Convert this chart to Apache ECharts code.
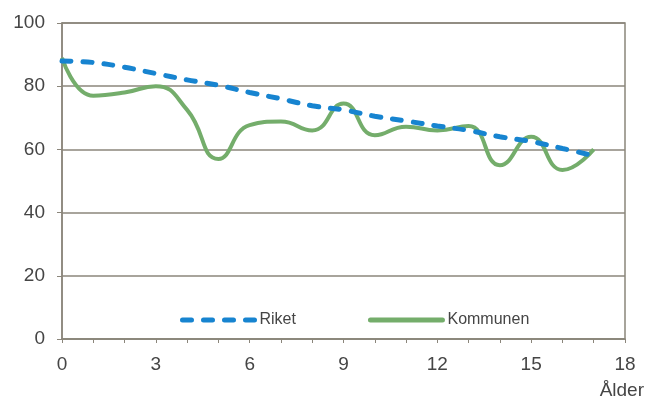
<!DOCTYPE html>
<html>
<head>
<meta charset="utf-8">
<script src="https://cdn.jsdelivr.net/npm/echarts@6/dist/echarts.min.js"></script>
<style>
  html, body { margin: 0; padding: 0; background: #fff; }
  #chart { width: 647px; height: 403px; }
</style>
</head>
<body>
<div id="chart"></div>
<script>
// ålder 0..17
const ages = [0, 1, 2, 3, 4, 5, 6, 7, 8, 9, 10, 11, 12, 13, 14, 15, 16, 17]
const riket = [88, 87.5, 86, 84, 82, 80.3, 78, 76, 73.8, 72.5, 70.5, 69, 67.4, 66, 64, 62.5, 60.3, 58]
const kommunen = [89, 77, 78, 80, 72.5, 57, 67.7, 68.8, 66, 74.5, 64.5, 67.2, 66, 67.4, 55, 64, 53.5, 60]
const xTicks = [0, 3, 6, 9, 12, 15, 18]

const gridColor = '#8b867b'
const textColor = '#454545'

const chart = echarts.init(document.getElementById('chart'))

const option = {
  animation: false,
  backgroundColor: '#fff',
  textStyle: { fontFamily: 'Liberation Sans, Arial, sans-serif' },
  grid: {
    left: 62, right: 21, top: 23, bottom: 64,
    show: true, borderColor: gridColor, borderWidth: 1.5
  },
  legend: {
    top: 307,
    left: 175,
    itemWidth: 72,
    itemHeight: 10,
    itemGap: 72,
    textStyle: { color: textColor, fontSize: 16 },
    itemStyle: { opacity: 0 },
    lineStyle: { width: 5, cap: 'round' },
    data: ['Riket', 'Kommunen']
  },
  xAxis: {
    type: 'value',
    min: 0, max: 18, interval: 3,
    name: 'Ålder',
    nameLocation: 'end',
    nameGap: 19,
    nameTextStyle: { color: textColor, fontSize: 19, align: 'right', verticalAlign: 'top', padding: [42, 0, 0, 0] },
    axisLine: { lineStyle: { color: gridColor, width: 1.5 } },
    axisTick: { show: true, length: 4, lineStyle: { color: gridColor } },
    minorTick: { show: true, splitNumber: 3, length: 4, lineStyle: { color: gridColor } },
    axisLabel: {
      color: textColor, fontSize: 19, margin: 16,
      customValues: xTicks
    },
    splitLine: { show: false }
  },
  yAxis: {
    type: 'value',
    min: 0, max: 100, interval: 20,
    axisLine: { show: true, lineStyle: { color: gridColor, width: 1.5 } },
    axisTick: { show: true, length: 5, lineStyle: { color: gridColor } },
    axisLabel: { color: textColor, fontSize: 19, margin: 17 },
    splitLine: { lineStyle: { color: gridColor, width: 1.5 } }
  },
  series: [
    {
      name: 'Riket',
      type: 'line',
      data: ages.map((a, i) => [a, riket[i]]),
      smooth: 0.4,
      symbol: 'none',
      z: 3,
      lineStyle: { color: '#1784d0', width: 5, type: [9, 12], cap: 'round' },
      itemStyle: { color: '#1784d0' }
    },
    {
      name: 'Kommunen',
      type: 'line',
      data: ages.map((a, i) => [a, kommunen[i]]),
      smooth: 0.5,
      symbol: 'none',
      z: 2,
      lineStyle: { color: '#74ad6b', width: 4 },
      itemStyle: { color: '#74ad6b' }
    }
  ]
}

chart.setOption(option)
</script>
</body>
</html>
